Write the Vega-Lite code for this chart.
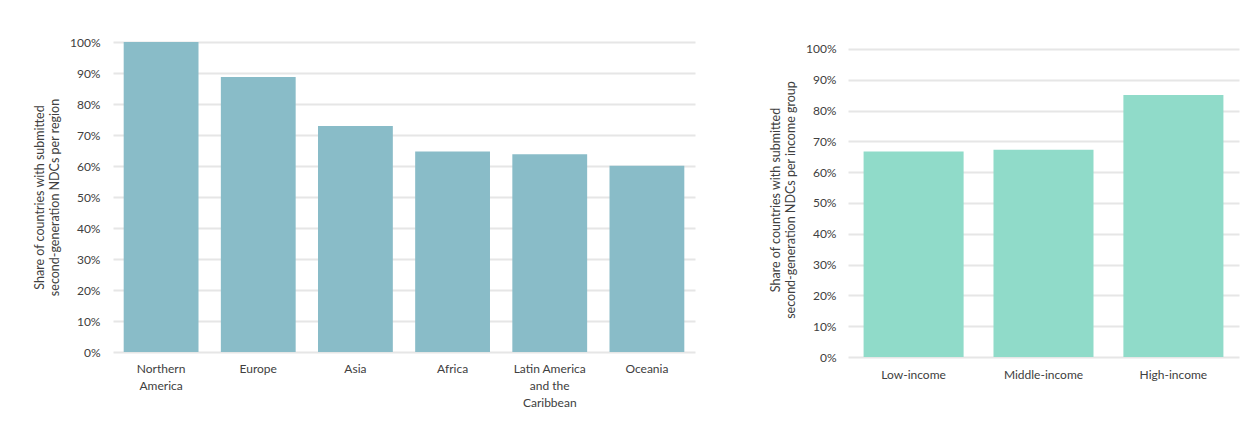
{
  "$schema": "https://vega.github.io/schema/vega-lite/v6.json",
  "background": "white",
  "padding": {"left": 33, "top": 36, "right": 6, "bottom": 5},
  "spacing": 74,
  "config": {
    "view": {"stroke": null},
    "font": "Lato",
    "axis": {
      "labelFont": "Lato",
      "titleFont": "Lato",
      "labelColor": "#404040",
      "titleColor": "#404040",
      "labelFontSize": 12,
      "titleFontSize": 12.5,
      "titleFontWeight": "normal",
      "gridColor": "#e6e6e6",
      "gridWidth": 2,
      "ticks": false,
      "domain": false
    }
  },
  "hconcat": [
    {
      "width": 582,
      "height": 310,
      "data": {
        "values": [
          {"region": "Northern|America", "share": 1.0},
          {"region": "Europe", "share": 0.887},
          {"region": "Asia", "share": 0.729},
          {"region": "Africa", "share": 0.647},
          {"region": "Latin America|and the|Caribbean", "share": 0.638},
          {"region": "Oceania", "share": 0.601}
        ]
      },
      "mark": {"type": "bar", "color": "#89bcc8"},
      "encoding": {
        "x": {
          "field": "region",
          "type": "nominal",
          "sort": null,
          "scale": {"paddingInner": 0.23, "paddingOuter": 0.11},
          "axis": {
            "title": null,
            "labelAngle": 0,
            "labelPadding": 11,
            "labelLineHeight": 17,
            "labelExpr": "split(datum.label, '|')"
          }
        },
        "y": {
          "field": "share",
          "type": "quantitative",
          "scale": {"domain": [0, 1]},
          "axis": {
            "format": ".0%",
            "values": [0, 0.1, 0.2, 0.3, 0.4, 0.5, 0.6, 0.7, 0.8, 0.9, 1.0],
            "labelPadding": 13,
            "titlePadding": 8,
            "titleLineHeight": 15,
            "title": ["Share of countries with submitted", "second-generation NDCs per region"]
          }
        }
      }
    },
    {
      "width": 391,
      "height": 315,
      "data": {
        "values": [
          {"group": "Low-income", "share": 0.667},
          {"group": "Middle-income", "share": 0.673},
          {"group": "High-income", "share": 0.851}
        ]
      },
      "mark": {"type": "bar", "color": "#90dbc9"},
      "encoding": {
        "x": {
          "field": "group",
          "type": "nominal",
          "sort": null,
          "scale": {"paddingInner": 0.23, "paddingOuter": 0.12},
          "axis": {
            "title": null,
            "labelAngle": 0,
            "labelPadding": 12
          }
        },
        "y": {
          "field": "share",
          "type": "quantitative",
          "scale": {"domain": [0, 1.0227], "nice": false},
          "axis": {
            "format": ".0%",
            "values": [0, 0.1, 0.2, 0.3, 0.4, 0.5, 0.6, 0.7, 0.8, 0.9, 1.0],
            "labelPadding": 12,
            "titlePadding": 8,
            "titleLineHeight": 15,
            "title": ["Share of countries with submitted", "second-generation NDCs per income group"]
          }
        }
      }
    }
  ]
}
